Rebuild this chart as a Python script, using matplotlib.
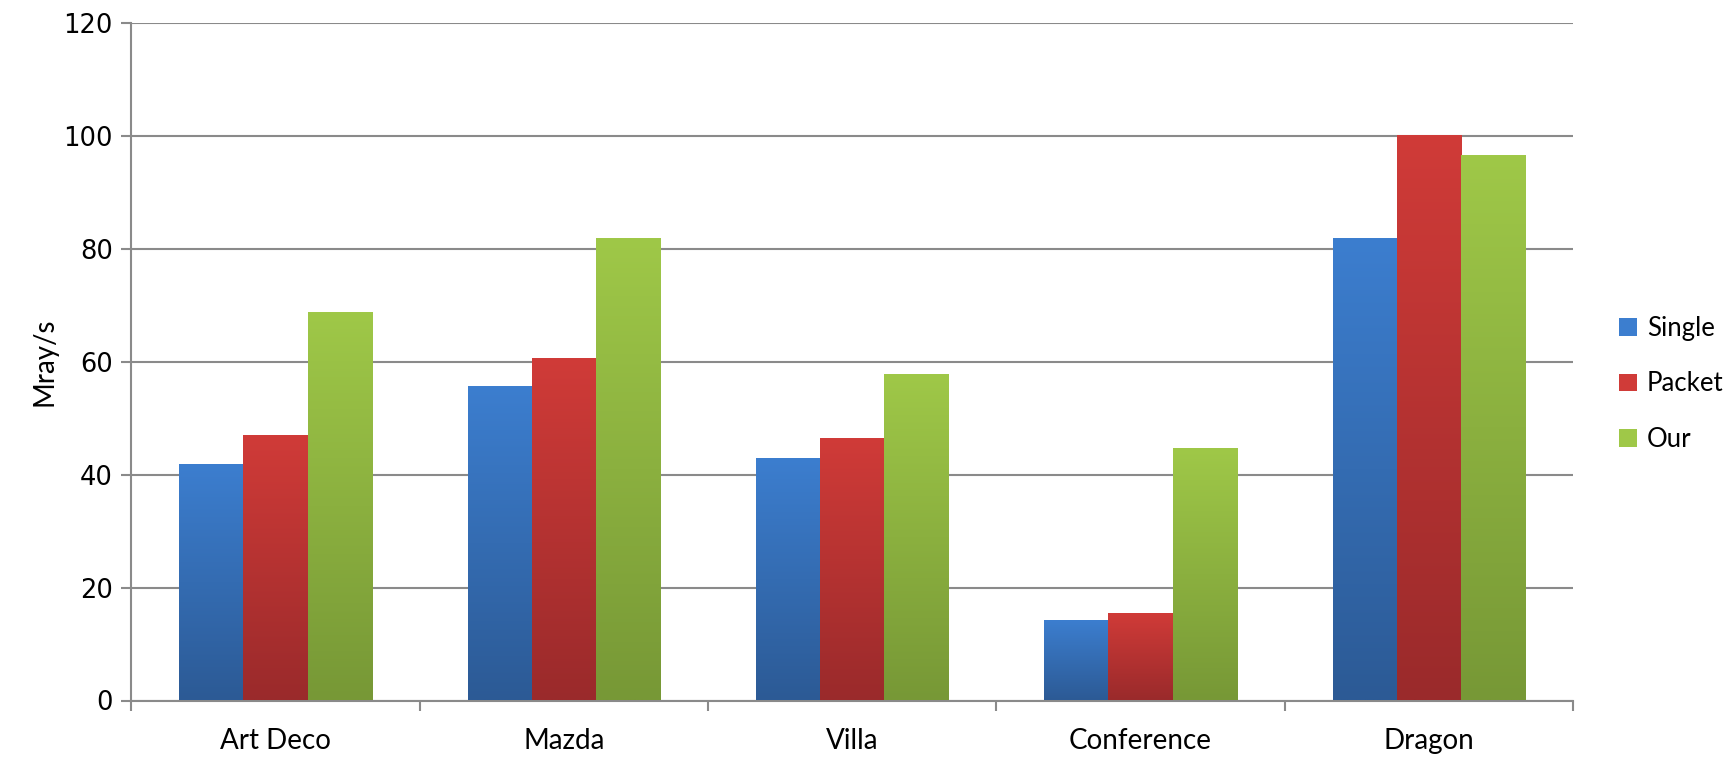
import numpy as np
import matplotlib
matplotlib.use('Agg')
import matplotlib.pyplot as plt
from matplotlib.colors import LinearSegmentedColormap
from matplotlib.patches import Patch

scenes  = ['Art Deco', 'Mazda', 'Villa', 'Conference', 'Dragon']
single  = [41.7, 55.5, 42.7, 14.0, 81.7]
packet  = [46.9, 60.4, 46.3, 15.3, 100.0]
our     = [68.6, 81.7, 57.6, 44.6, 96.4]
names   = ['Single', 'Packet', 'Our']
yticks  = [0, 20, 40, 60, 80, 100, 120]

# (top, bottom) colours of the vertical gradient in each bar
shades = [('#3c7ecf', '#2c5a95'),
          ('#d03b38', '#9a2a2b'),
          ('#9fc848', '#779836')]

plt.rcParams['font.family'] = ['Lato', 'DejaVu Sans']

fig = plt.figure(figsize=(17.33, 7.58), dpi=100)
ax = fig.add_axes([131.3/1733, 57.5/758, (1573-131.3)/1733, (700.5-23)/758])

x = np.arange(len(scenes))
w = 2.0/9
grad = np.linspace(1, 0, 256).reshape(-1, 1)

for k, (vals, (top, bot)) in enumerate(zip([single, packet, our], shades)):
    cmap = LinearSegmentedColormap.from_list('g%d' % k, [bot, top])
    bars = ax.bar(x + (k-1)*w, vals, w, color='none', edgecolor='none', zorder=3)
    for b in bars:
        x0, y0 = b.get_x(), b.get_y()
        ax.imshow(grad, cmap=cmap, aspect='auto', zorder=3,
                  extent=(x0, x0 + b.get_width(), y0, y0 + b.get_height()),
                  vmin=0, vmax=1, interpolation='bilinear')

ax.set_xlim(-0.5, len(scenes) - 0.5)
ax.set_ylim(0, 120)

gridc = '#8a8a8a'
ax.set_yticks(yticks)
ax.yaxis.grid(True, color=gridc, linewidth=1.5, zorder=0)
ax.set_axisbelow(True)

ax.set_xticks(x)
ax.set_xticklabels(scenes, fontsize=20)
ax.set_xticks(np.arange(len(scenes)+1) - 0.5, minor=True)
ax.tick_params(axis='x', which='major', length=0, pad=20)
ax.tick_params(axis='x', which='minor', length=7.2, width=1.5, color=gridc)
ax.tick_params(axis='y', length=7.2, width=1.5, color=gridc, pad=6)
for lab in ax.get_yticklabels():
    lab.set_family('DejaVu Sans')
    lab.set_fontsize(18.5)

for s in ['top', 'right']:
    ax.spines[s].set_visible(False)
for s in ['left', 'bottom']:
    ax.spines[s].set_color(gridc)
    ax.spines[s].set_linewidth(1.5)

ax.set_ylabel('Mray/s', fontsize=20, labelpad=4)

handles = [Patch(facecolor=c[0], edgecolor='none') for c in shades]
leg = fig.legend(handles, names, loc='center left', bbox_to_anchor=(1606/1733, 374/758),
                 frameon=False, fontsize=18.5, handlelength=0.7, handleheight=0.7,
                 handletextpad=0.4, labelspacing=1.2, borderpad=0)

fig.savefig('out.png', dpi=100)
